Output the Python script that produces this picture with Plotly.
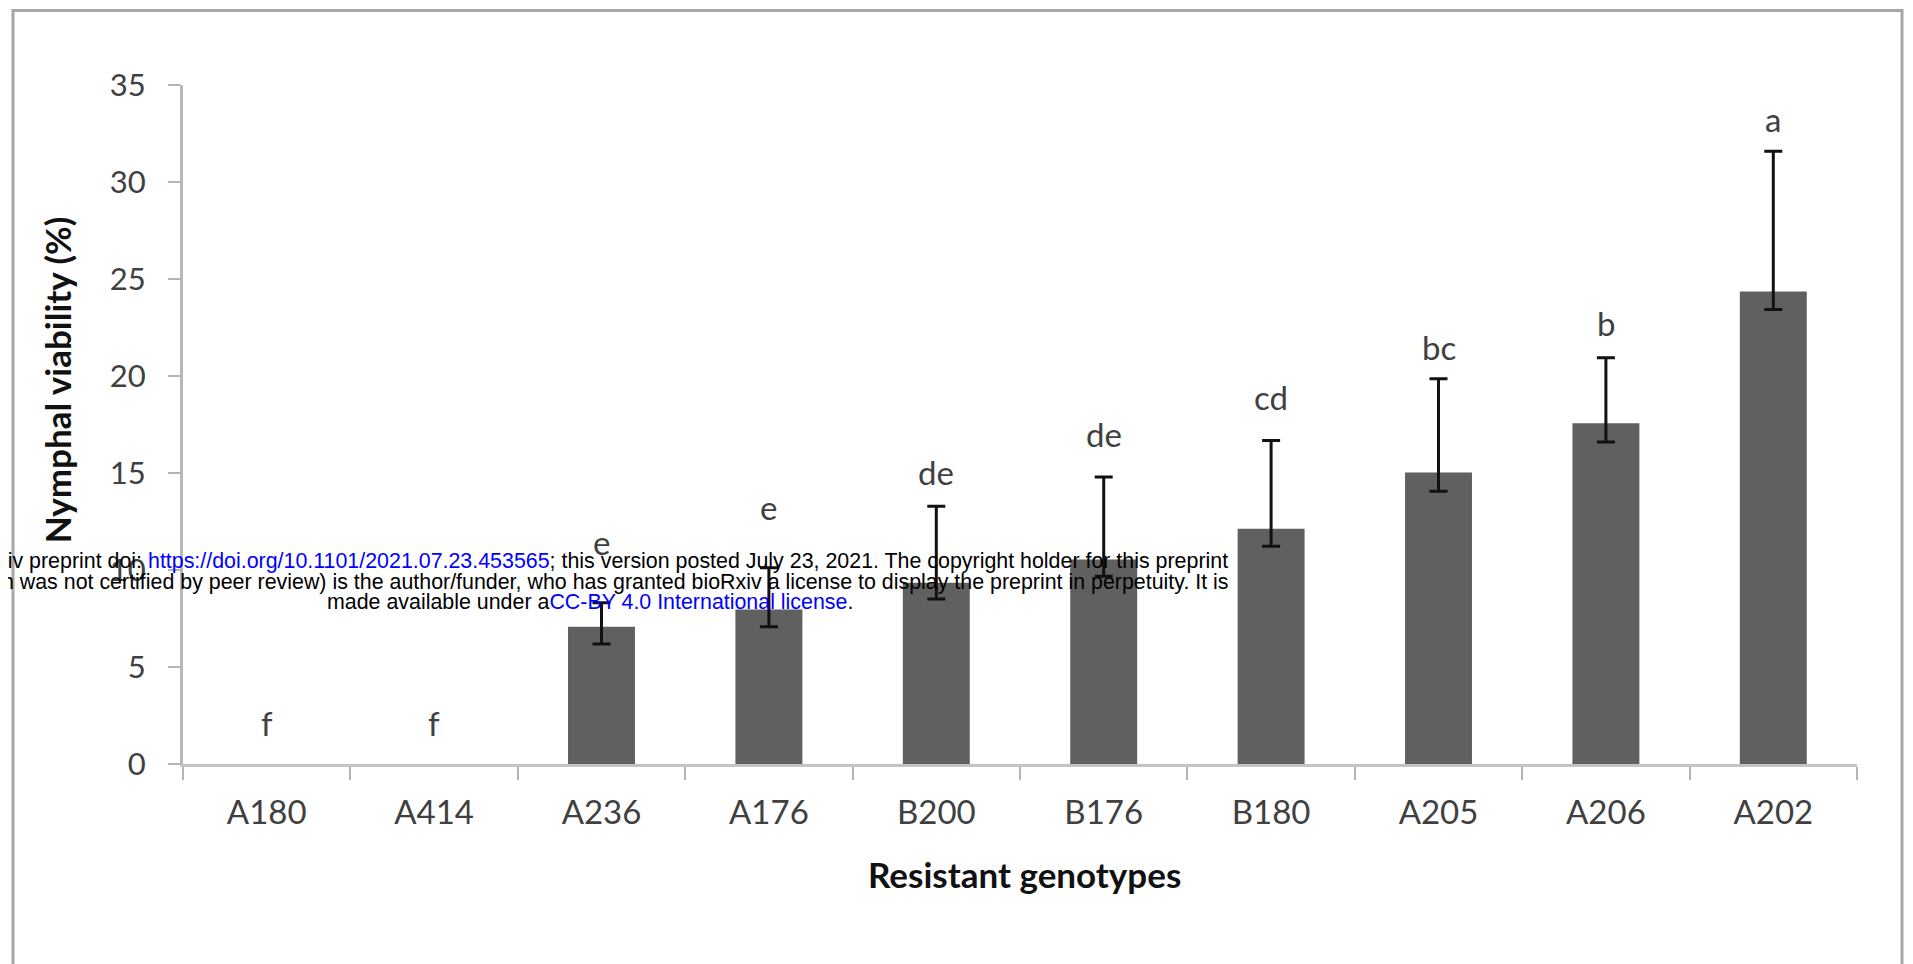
import plotly.graph_objects as go

# ---- data ----
genotypes = ["A180", "A414", "A236", "A176", "B200", "B176", "B180", "A205", "A206", "A202"]
viability = [0, 0, 7.07, 7.97, 9.34, 10.54, 12.12, 15.02, 17.57, 24.36]
err_plus = [0, 0, 1.24, 2.14, 3.95, 4.25, 4.56, 4.84, 3.37, 7.22]
err_minus = [0, 0, 0.89, 0.90, 0.83, 0.86, 0.89, 0.96, 0.97, 0.93]
letters = ["f", "f", "e", "e", "de", "de", "cd", "bc", "b", "a"]
letter_y = [2.1, 2.1, 11.45, 13.25, 15.05, 17.0, 18.9, 21.5, 22.75, 33.25]
y_ticks = [0, 5, 10, 15, 20, 25, 30, 35]

# ---- geometry (pixels, page coordinates; page body has an 8px margin) ----
OFF = 8
W, H = 1913 - OFF, 964 - OFF
L, R, T, B = 183 - OFF, 1857 - OFF, 84.5 - OFF, 764 - OFF


def px(x):
    return (x - OFF - L) / (R - L)


def py(y):
    return (B - (y - OFF)) / (B - T)


FONT = "Lato, 'Open Sans', sans-serif"
TXT = "#404040"

fig = go.Figure()
fig.add_trace(go.Bar(
    x=genotypes, y=viability, width=0.40,
    marker=dict(color="#606060", line=dict(width=0)),
    showlegend=False, hoverinfo="x+y",
))

# error bars only for genotypes with non-zero viability
has_err = [v > 0 for v in viability]
fig.add_trace(go.Scatter(
    x=[g for g, h in zip(genotypes, has_err) if h],
    y=[v for v, h in zip(viability, has_err) if h],
    mode="markers", marker=dict(size=1, opacity=0),
    error_y=dict(type="data", symmetric=False,
                 array=[e for e, h in zip(err_plus, has_err) if h],
                 arrayminus=[e for e, h in zip(err_minus, has_err) if h],
                 color="#111111", thickness=3, width=9, visible=True),
    showlegend=False, hoverinfo="skip",
))

annotations = []
for g, lt, ly in zip(genotypes, letters, letter_y):
    annotations.append(dict(x=g, y=ly, xref="x", yref="y", text=lt, showarrow=False,
                            font=dict(family=FONT, size=33, color=TXT),
                            xanchor="center", yanchor="middle"))

# axis titles
annotations.append(dict(x=px(1024), y=py(874), xref="paper", yref="paper",
                        text="<b>Resistant genotypes</b>", showarrow=False,
                        font=dict(family=FONT, size=35, color="#111111"),
                        xanchor="center", yanchor="middle"))
annotations.append(dict(x=px(57), y=py(380), xref="paper", yref="paper",
                        text="<b>Nymphal viability (%)</b>", showarrow=False, textangle=-90,
                        font=dict(family=FONT, size=35, color="#111111"),
                        xanchor="center", yanchor="middle"))

# bioRxiv watermark
blue = "#0000ff"
wm_lines = [
    "bioRxiv preprint doi: <span style='color:%s'>https://doi.org/10.1101/2021.07.23.453565</span>; "
    "this version posted July 23, 2021. The copyright holder for this preprint" % blue,
    "(which was not certified by peer review) is the author/funder, who has granted bioRxiv a license "
    "to display the preprint in perpetuity. It is",
    "made available under a<span style='color:%s'>CC-BY 4.0 International license</span>." % blue,
]
wm_y = [560.5, 581.5, 602.0]
for t, yy in zip(wm_lines, wm_y):
    annotations.append(dict(x=px(590), y=py(yy), xref="paper", yref="paper", text=t,
                            showarrow=False, xanchor="center", yanchor="middle",
                            font=dict(family="'Liberation Sans', Arial, sans-serif", size=21.4,
                                      color="#000000")))

shapes = [dict(type="rect", xref="paper", yref="paper",
               x0=px(13), x1=px(1902), y0=py(1010), y1=py(10),
               line=dict(color="#a6a6a6", width=3), layer="below")]

fig.update_layout(
    width=W, height=H,
    margin=dict(l=L, r=W - R, t=T, b=H - B, pad=0),
    paper_bgcolor="white", plot_bgcolor="white",
    bargap=0.6,
    xaxis=dict(type="category", range=[-0.5, 9.5], tickson="boundaries", ticks="outside",
               ticklen=13, tickwidth=2, tickcolor="#b5b5b5",
               showline=True, linecolor="#c4c4c4", linewidth=3, showgrid=False, zeroline=False,
               tickfont=dict(family=FONT, size=33, color=TXT), ticklabelstandoff=17),
    yaxis=dict(range=[0, 35], tickvals=y_ticks, ticks="outside", ticklen=12, tickwidth=2,
               tickcolor="#b5b5b5", showline=True, linecolor="#b8b8b8", linewidth=3,
               showgrid=False, zeroline=False,
               tickfont=dict(family=FONT, size=31, color=TXT), ticklabelstandoff=16),
    annotations=annotations, shapes=shapes,
)

fig.write_html("out.html")
